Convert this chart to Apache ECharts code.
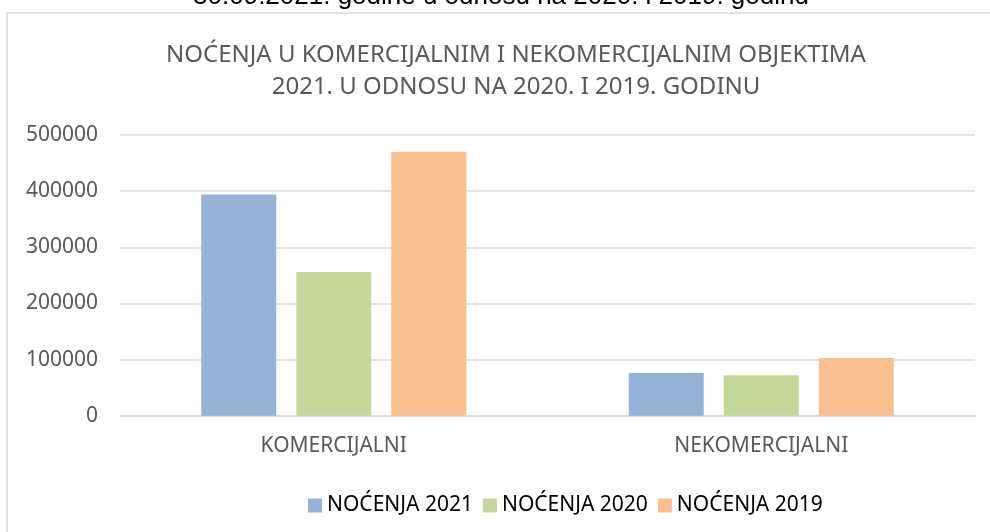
<!DOCTYPE html>
<html>
<head>
<meta charset="utf-8">
<script src="https://cdn.jsdelivr.net/npm/echarts@6/dist/echarts.min.js"></script>
<style>
  html, body { margin: 0; padding: 0; background: #fff; }
  #main { width: 990px; height: 532px; }
</style>
</head>
<body>
<div id="main"></div>
<script>
  // podaci
  var categories = ["KOMERCIJALNI", "NEKOMERCIJALNI"];
  var nocenja2021 = [394000, 76000];
  var nocenja2020 = [256000, 72000];
  var nocenja2019 = [470000, 103000];
  var seriesNames = ["NOĆENJA 2021", "NOĆENJA 2020", "NOĆENJA 2019"];

  var chartDom = document.getElementById("main");
  var myChart = echarts.init(chartDom);

  var font = "Noto Sans";
  var barStyle = function (color) {
    return { color: color };
  };

  var option = {
    animation: false,
    backgroundColor: "#fff",
    title: {
      text: "NOĆENJA U KOMERCIJALNIM I NEKOMERCIJALNIM OBJEKTIMA\n2021. U ODNOSU NA 2020. I 2019. GODINU",
      left: 516,
      top: 39,
      textAlign: "center",
      padding: 0,
      textStyle: {
        fontFamily: font,
        fontSize: 24,
        fontWeight: "normal",
        color: "#595959",
        lineHeight: 32,
      },
    },
    graphic: [
      {
        type: "rect",
        shape: { x: 7, y: 13, width: 1000, height: 540 },
        style: { fill: "none", stroke: "#d9d9d9", lineWidth: 1.5 },
        silent: true,
      },
      {
        type: "text",
        x: 501,
        y: -3,
        style: {
          text: "30.09.2021. godine u odnosu na 2020. i 2019. godinu",
          font: "26px 'Liberation Sans', Arial, sans-serif",
          fill: "#000",
          align: "center",
          verticalAlign: "middle",
        },
        silent: true,
      },
    ],
    legend: {
      left: 303,
      top: 490,
      itemWidth: 14,
      itemHeight: 14,
      itemGap: 10,
      icon: "rect",
      textStyle: { fontFamily: font, fontSize: 21, color: "#000" },
      data: seriesNames,
    },
    grid: { left: 120, right: 15, top: 135, bottom: 116.3, containLabel: false },
    xAxis: {
      type: "category",
      data: categories,
      axisLine: { show: true, lineStyle: { color: "#d9d9d9", width: 1.5 } },
      axisTick: { show: false },
      axisLabel: { fontFamily: font, fontSize: 21, color: "#595959", margin: 20 },
    },
    yAxis: {
      type: "value",
      min: 0,
      max: 500000,
      interval: 100000,
      axisLine: { show: false },
      axisTick: { show: false },
      splitLine: { lineStyle: { color: "#d9d9d9", width: 1.5 } },
      axisLabel: {
        fontFamily: font,
        fontSize: 21,
        color: "#595959",
        margin: 22,
        formatter: function (v) {
          return String(v);
        },
      },
    },
    series: [
      { name: seriesNames[0], type: "bar", data: nocenja2021, barWidth: 75, barGap: "26.7%", itemStyle: barStyle("#95b3d7") },
      { name: seriesNames[1], type: "bar", data: nocenja2020, barWidth: 75, barGap: "26.7%", itemStyle: barStyle("#c4d79b") },
      { name: seriesNames[2], type: "bar", data: nocenja2019, barWidth: 75, barGap: "26.7%", itemStyle: barStyle("#fabf8f") },
    ],
  };

  myChart.setOption(option);
</script>
</body>
</html>
